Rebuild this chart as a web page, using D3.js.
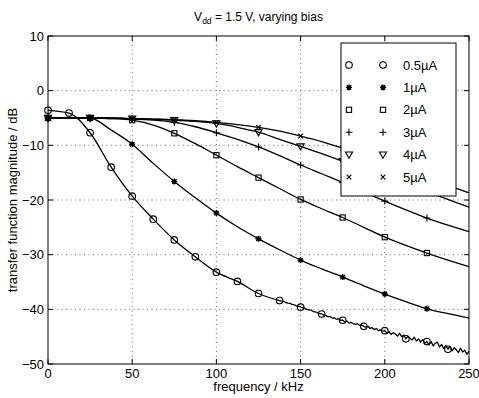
<!DOCTYPE html>
<html>
<head>
<meta charset="utf-8">
<script src="https://cdn.jsdelivr.net/npm/d3@7"></script>
<style>
  html, body { margin: 0; padding: 0; background: #fff; }
  text { font-family: "Liberation Sans", Arial, Helvetica, sans-serif; fill: #000; }
</style>
</head>
<body>
<svg id="chart" width="479" height="398"></svg>
<script>
// ---------- data ----------
const seriesLabels = ["0.5\u00b5A", "1\u00b5A", "2\u00b5A", "3\u00b5A", "4\u00b5A", "5\u00b5A"];
const markerKinds  = ["circle", "asterisk", "square", "plus", "triangle", "cross"];

// coarse frequency grid (kHz)
const freq = [0, 12.5, 25, 37.5, 50, 62.5, 75, 87.5, 100, 112.5, 125, 137.5, 150,
              162.5, 175, 187.5, 200, 212.5, 225, 237.5, 250];

// 0.5 uA: smooth part 0..137.5 kHz
const f05a = [0, 12.5, 25, 37.5, 50, 62.5, 75, 87.5, 100, 112.5, 125, 137.5, 140];
const v05a = [-3.6, -4.1, -7.7, -14.0, -19.3, -23.5, -27.3, -30.4, -33.2, -34.9, -37.1, -38.4, -38.6];
// 0.5 uA: noisy measured tail 140..250 kHz (1.25 kHz steps)
const f05b = [140, 141.25, 142.5, 143.75, 145, 146.25, 147.5, 148.75, 150, 151.25, 152.5, 153.75,
  155, 156.25, 157.5, 158.75, 160, 161.25, 162.5, 163.75, 165, 166.25, 167.5, 168.75, 170, 171.25,
  172.5, 173.75, 175, 176.25, 177.5, 178.75, 180, 181.25, 182.5, 183.75, 185, 186.25, 187.5, 188.75,
  190, 191.25, 192.5, 193.75, 195, 196.25, 197.5, 198.75, 200, 201.25, 202.5, 203.75, 205, 206.25,
  207.5, 208.75, 210, 211.25, 212.5, 213.75, 215, 216.25, 217.5, 218.75, 220, 221.25, 222.5, 223.75,
  225, 226.25, 227.5, 228.75, 230, 231.25, 232.5, 233.75, 235, 236.25, 237.5, 238.75, 240, 241.25,
  242.5, 243.75, 245, 246.25, 247.5, 248.75, 250];
const v05b = [-38.6, -38.75, -38.85, -38.9, -39.1, -39.2, -39.35, -39.4, -39.6, -39.75, -39.8, -40.0,
  -40.1, -40.15, -40.4, -40.45, -40.6, -40.8, -40.85, -41.05, -41.1, -41.35, -41.3, -41.6, -41.55, -41.8,
  -41.75, -42.0, -42.0, -42.3, -42.15, -42.5, -42.4, -42.6, -42.75, -42.6, -42.95, -42.85, -43.1, -43.25,
  -43.1, -43.5, -43.35, -43.7, -43.5, -43.9, -43.75, -44.0, -43.9, -44.4, -44.1, -44.6, -44.3, -44.5,
  -44.9, -44.4, -45.0, -44.7, -45.4, -44.9, -45.3, -45.6, -45.1, -45.8, -45.4, -46.0, -45.5, -46.2,
  -45.9, -46.5, -45.9, -46.7, -46.2, -46.0, -46.9, -46.4, -47.2, -46.6, -47.3, -46.8, -47.6, -47.0,
  -47.4, -47.9, -47.1, -47.8, -47.5, -48.2, -47.7];

const v1 = [-5.0, -4.9, -5.0, -7.2, -9.8, -13.3, -16.6, -19.6, -22.4, -24.9, -27.1, -29.1, -31.0,
            -32.6, -34.1, -35.7, -37.2, -38.6, -39.9, -40.8, -41.6];
const v2 = [-5.0, -5.0, -5.0, -5.1, -5.4, -6.3, -7.8, -9.7, -11.8, -13.9, -15.9, -17.9, -19.9,
            -21.6, -23.2, -25.0, -26.8, -28.3, -29.7, -31.0, -32.2];
const v3 = [-5.0, -5.0, -5.0, -5.1, -5.2, -5.4, -5.8, -6.6, -7.7, -8.9, -10.3, -11.9, -13.6,
            -15.2, -16.8, -18.5, -20.2, -21.8, -23.3, -24.6, -25.8];
const v4 = [-5.0, -5.0, -5.0, -5.0, -5.1, -5.2, -5.4, -5.6, -6.0, -6.7, -7.6, -8.9, -10.2,
            -11.5, -12.9, -14.3, -15.7, -17.1, -18.5, -19.9, -21.3];
const v5 = [-5.0, -5.0, -5.0, -5.0, -5.1, -5.2, -5.3, -5.5, -5.8, -6.2, -6.7, -7.4, -8.3,
            -9.3, -10.5, -11.8, -13.1, -14.5, -15.9, -17.3, -18.7];

const xTicks = [0, 50, 100, 150, 200, 250];
const yTicks = [10, 0, -10, -20, -30, -40, -50];
const titleMain = "V";
const titleSub = "dd";
const titleRest = " = 1.5 V, varying bias";
const xLabel = "frequency / kHz";
const yLabel = "transfer function magnitude / dB";

// ---------- build series ----------
const smooth05 = f05a.map((f, i) => ({ f, v: v05a[i] }));
const tail05 = f05b.map((f, i) => ({ f, v: v05b[i] }));
const series = [
  { parts: [[smooth05, d3.curveMonotoneX], [tail05, d3.curveLinear]],
    pts: smooth05.slice(0, -1).concat(tail05), step: 12.5, maxM: 237.5 },
  { pts: freq.map((f, i) => ({ f, v: v1[i] })), step: 25, maxM: 225 },
  { pts: freq.map((f, i) => ({ f, v: v2[i] })), step: 25, maxM: 225 },
  { pts: freq.map((f, i) => ({ f, v: v3[i] })), step: 25, maxM: 225 },
  { pts: freq.map((f, i) => ({ f, v: v4[i] })), step: 25, maxM: 225 },
  { pts: freq.map((f, i) => ({ f, v: v5[i] })), step: 25, maxM: 225 }
];

// ---------- layout ----------
const svg = d3.select("#chart");
const L = 48, R = 469, T = 36, B = 364;
const x = d3.scaleLinear().domain([0, 250]).range([L, R]);
const y = d3.scaleLinear().domain([-50, 10]).range([B, T]);

// grid
const grid = svg.append("g").attr("stroke", "#000").attr("stroke-width", 0.8)
  .attr("stroke-dasharray", "1,3.5").attr("opacity", 0.75);
xTicks.filter(t => t > 0 && t < 250).forEach(t =>
  grid.append("line").attr("x1", x(t)).attr("x2", x(t)).attr("y1", T).attr("y2", B));
yTicks.filter(t => t < 10 && t > -50).forEach(t =>
  grid.append("line").attr("x1", L).attr("x2", R).attr("y1", y(t)).attr("y2", y(t)));

// lines
const plot = svg.append("g");
series.forEach(s => {
  const parts = s.parts || [[s.pts, d3.curveMonotoneX]];
  parts.forEach(([pts, curve]) => {
    const lineGen = d3.line().x(d => x(d.f)).y(d => y(d.v)).curve(curve);
    plot.append("path").attr("d", lineGen(pts)).attr("fill", "none")
      .attr("stroke", "#000").attr("stroke-width", 1.3).attr("stroke-linejoin", "round");
  });
});

// marker drawing
function drawMarker(g, kind, cx, cy) {
  const st = { stroke: "#000", "stroke-width": 1.1, fill: "none" };
  const app = (tag, attrs) => { const e = g.append(tag); Object.entries(Object.assign({}, st, attrs)).forEach(([k, v]) => e.attr(k, v)); return e; };
  if (kind === "circle") app("circle", { cx, cy, r: 3.3 });
  else if (kind === "square") app("rect", { x: cx - 2.6, y: cy - 2.6, width: 5.2, height: 5.2 });
  else if (kind === "plus") app("path", { d: `M${cx - 3.5},${cy}H${cx + 3.5}M${cx},${cy - 3.5}V${cy + 3.5}` });
  else if (kind === "cross") app("path", { d: `M${cx - 2.3},${cy - 2.3}L${cx + 2.3},${cy + 2.3}M${cx - 2.3},${cy + 2.3}L${cx + 2.3},${cy - 2.3}` });
  else if (kind === "triangle") app("path", { d: `M${cx - 3.6},${cy - 2.6}H${cx + 3.6}L${cx},${cy + 3.6}Z` });
  else if (kind === "asterisk") {
    app("path", { d: `M${cx - 3},${cy}H${cx + 3}M${cx},${cy - 3}V${cy + 3}M${cx - 2.2},${cy - 2.2}L${cx + 2.2},${cy + 2.2}M${cx - 2.2},${cy + 2.2}L${cx + 2.2},${cy - 2.2}`, "stroke-width": 1.4 });
    app("circle", { cx, cy, r: 1.4, fill: "#000", stroke: "none" });
  }
}

series.forEach((s, i) => {
  const g = plot.append("g");
  s.pts.filter(d => Math.abs(d.f / s.step - Math.round(d.f / s.step)) < 1e-9 && d.f <= s.maxM)
    .forEach(d => drawMarker(g, markerKinds[i], x(d.f), y(d.v)));
});

// axes frame
svg.append("rect").attr("x", L).attr("y", T).attr("width", R - L).attr("height", B - T)
  .attr("fill", "none").attr("stroke", "#000").attr("stroke-width", 1);

// ticks (inward, all four sides)
const tk = svg.append("g").attr("stroke", "#000").attr("stroke-width", 1);
const tl = 5;
xTicks.forEach(t => {
  tk.append("line").attr("x1", x(t)).attr("x2", x(t)).attr("y1", B).attr("y2", B - tl);
  tk.append("line").attr("x1", x(t)).attr("x2", x(t)).attr("y1", T).attr("y2", T + tl);
});
yTicks.forEach(t => {
  tk.append("line").attr("x1", L).attr("x2", L + tl).attr("y1", y(t)).attr("y2", y(t));
  tk.append("line").attr("x1", R).attr("x2", R - tl).attr("y1", y(t)).attr("y2", y(t));
});

// tick labels
const fmt = t => (t < 0 ? "\u2212" + Math.abs(t) : String(t));
svg.append("g").selectAll("text").data(xTicks).join("text")
  .attr("x", d => x(d)).attr("y", 377.5).attr("text-anchor", "middle")
  .attr("font-size", 13).text(d => fmt(d));
svg.append("g").selectAll("text").data(yTicks).join("text")
  .attr("x", 44).attr("y", d => y(d)).attr("dy", "0.35em").attr("text-anchor", "end")
  .attr("font-size", 13).text(d => fmt(d));

// axis labels
svg.append("text").attr("x", (L + R) / 2).attr("y", 390.5).attr("text-anchor", "middle")
  .attr("font-size", 13).text(xLabel);
svg.append("text").attr("transform", `translate(16.5,${(T + B) / 2}) rotate(-90)`)
  .attr("text-anchor", "middle").attr("font-size", 13).text(yLabel);

// title
const tt = svg.append("text").attr("x", (L + R) / 2).attr("y", 21).attr("text-anchor", "middle")
  .attr("font-size", 12);
tt.append("tspan").text(titleMain);
tt.append("tspan").attr("font-size", 8.5).attr("dy", 3).text(titleSub);
tt.append("tspan").attr("dy", -3).text(titleRest);

// legend
const lg = svg.append("g");
lg.append("rect").attr("x", 341).attr("y", 43).attr("width", 115).attr("height", 153)
  .attr("fill", "#fff").attr("stroke", "#000").attr("stroke-width", 1);
seriesLabels.forEach((lab, i) => {
  const cy = 65 + i * 22.4;
  const g = lg.append("g");
  drawMarker(g, markerKinds[i], 349, cy);
  drawMarker(g, markerKinds[i], 383, cy);
  lg.append("text").attr("x", 403).attr("y", cy).attr("dy", "0.35em")
    .attr("font-size", 13).text(lab);
});
</script>
</body>
</html>
